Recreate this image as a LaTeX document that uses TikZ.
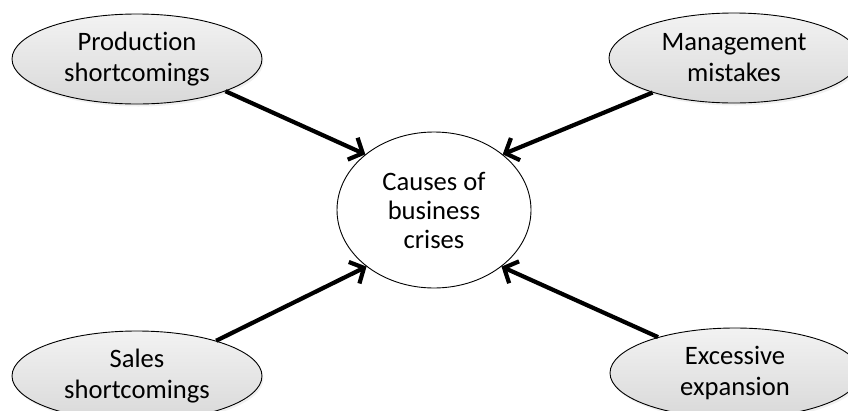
\documentclass[tikz,border=0pt]{standalone}
\usepackage{fontspec}
\setmainfont{Carlito}[Ligatures=NoCommon]
\usetikzlibrary{shapes.geometric,arrows.meta,shadows}

\tikzset{
    cause/.style={ellipse, draw=black, line width=0.9pt, inner sep=0pt,
        minimum width=250pt, minimum height=90pt, align=center,
        top color=gray!10, bottom color=gray!30,
        drop shadow={opacity=0.12, shadow xshift=1.5pt, shadow yshift=-2.5pt}},
    hub/.style={ellipse, draw=black, line width=0.9pt, fill=white, inner sep=0pt,
        minimum width=194pt, minimum height=156pt, align=center},
    push/.style={line width=4.2pt, -{Straight Barb[length=11pt,width=24pt]}},
}

\begin{document}
\begin{tikzpicture}[x=1pt, y=-1pt, font=\fontsize{26.6}{31}\selectfont]
    \useasboundingbox (0,0) rectangle (848,410);
    \node[hub] (crises) at (434,210) {Causes of\\[-2pt]business\\[-2pt]crises};
    \node[cause] (prod) at (137,59) {Production\\shortcomings};
    \node[cause] (mgmt) at (734,58) {Management\\mistakes};
    \node[cause] (sales) at (137,376) {Sales\\shortcomings};
    \node[cause] (expan) at (735,373) {Excessive\\expansion};

    \draw[push] (prod.-20) -- (crises.141);
    \draw[push] (mgmt.-157) -- (crises.39);
    \draw[push] (sales.24) -- (crises.-140);
    \draw[push] (expan.155) -- (crises.-40);
\end{tikzpicture}
\end{document}
